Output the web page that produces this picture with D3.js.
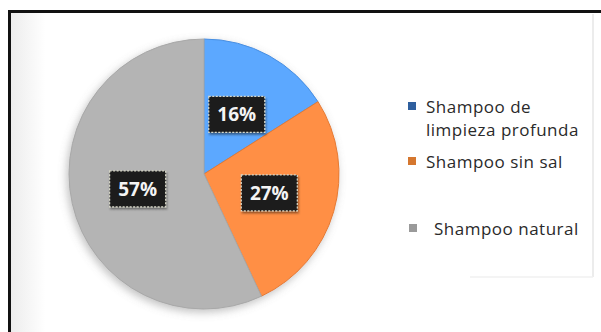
<!DOCTYPE html>
<html>
<head>
<meta charset="utf-8">
<script src="https://cdn.jsdelivr.net/npm/d3@7"></script>
<style>
  html, body { margin: 0; padding: 0; background: #ffffff; }
  svg { display: block; }
</style>
</head>
<body>
<svg id="chart" width="601" height="332"></svg>
<script>
// Share of shampoo types
const categories = ["Shampoo de limpieza profunda", "Shampoo sin sal", "Shampoo natural"];
const legendLines = [["Shampoo de", "limpieza profunda"], ["Shampoo sin sal"], ["Shampoo natural"]];
const values = [16, 27, 57];
const sliceColors = ["#5ba8ff", "#ff8f45", "#b4b4b4"];
const edgeColors = ["#4a8fe0", "#e57a32", "#a8a8a8"];
const swatchColors = ["#2f5f9e", "#d5772f", "#9a9a9a"];

const svg = d3.select("#chart");
const W = 601, H = 332;

const defs = svg.append("defs");
const shadow = defs.append("filter").attr("id", "pieShadow")
  .attr("x", "-20%").attr("y", "-20%").attr("width", "140%").attr("height", "140%");
shadow.append("feDropShadow").attr("dx", -2).attr("dy", 3)
  .attr("stdDeviation", 4).attr("flood-color", "#777").attr("flood-opacity", 0.45);

const boxShadow = defs.append("filter").attr("id", "boxShadow")
  .attr("x", "-30%").attr("y", "-30%").attr("width", "160%").attr("height", "160%");
boxShadow.append("feDropShadow").attr("dx", 1).attr("dy", 2)
  .attr("stdDeviation", 1.2).attr("flood-color", "#000").attr("flood-opacity", 0.45);

// soft grey haze along the left edge of the panel
const haze = defs.append("linearGradient").attr("id", "haze").attr("x1", 0).attr("x2", 1);
haze.append("stop").attr("offset", 0).attr("stop-color", "#ececec");
haze.append("stop").attr("offset", 0.06).attr("stop-color", "#ffffff");
haze.append("stop").attr("offset", 1).attr("stop-color", "#ffffff");

svg.append("rect").attr("x", 10).attr("y", 12).attr("width", W - 10).attr("height", H - 12)
  .attr("fill", "url(#haze)");

// faint outline of the inner chart area
svg.append("line").attr("x1", 593).attr("x2", 593).attr("y1", 14).attr("y2", 277)
  .attr("stroke", "#e6e6e6").attr("stroke-width", 1.5);
svg.append("line").attr("x1", 470).attr("x2", 593).attr("y1", 277).attr("y2", 277)
  .attr("stroke", "#f1f1f1").attr("stroke-width", 1.5);

// black frame on the top and left
svg.append("path")
  .attr("d", `M9.5,${H} L9.5,11.5 L${W},11.5`)
  .attr("fill", "none").attr("stroke", "#111").attr("stroke-width", 3);

// pie
const cx = 204, cy = 174, R = 135;
const pie = d3.pie().sort(null).value(d => d)(values);
const arc = d3.arc().innerRadius(0).outerRadius(R);
const labelArc = d3.arc().innerRadius(68).outerRadius(68);

const g = svg.append("g").attr("transform", `translate(${cx},${cy})`);
g.append("g").attr("filter", "url(#pieShadow)")
  .selectAll("path").data(pie).join("path")
  .attr("d", arc)
  .attr("fill", (d, i) => sliceColors[i])
  .attr("stroke", (d, i) => edgeColors[i])
  .attr("stroke-width", 1);

// value labels in dark boxes
const lab = g.selectAll("g.lab").data(pie).join("g")
  .attr("class", "lab")
  .attr("transform", d => `translate(${labelArc.centroid(d)})`);
lab.append("rect")
  .attr("x", -28).attr("y", -18).attr("width", 56).attr("height", 36)
  .attr("fill", "#1f1f1f")
  .attr("stroke", "#d8d8c8").attr("stroke-width", 1.2).attr("stroke-dasharray", "2,1.5")
  .attr("filter", "url(#boxShadow)");
lab.append("text")
  .attr("text-anchor", "middle").attr("dy", "0.36em")
  .attr("font-family", "'Open Sans', sans-serif").attr("font-weight", 700)
  .attr("font-size", 19).attr("fill", "#f4f4f4")
  .text(d => d.data + "%");

// legend
const legendY = [113, 168, 235];
const legendSwatchX = [408, 408, 409];
const legendTextX = [426, 426, 434];
const leg = svg.append("g").selectAll("g").data(categories).join("g");
leg.append("rect")
  .attr("x", (d, i) => legendSwatchX[i]).attr("y", (d, i) => legendY[i] - 11)
  .attr("width", 8).attr("height", 8)
  .attr("fill", (d, i) => swatchColors[i]);
leg.append("text")
  .attr("font-family", "'Open Sans', sans-serif").attr("font-size", 17)
  .attr("letter-spacing", 0.5)
  .attr("fill", "#2a2a2a")
  .selectAll("tspan").data((d, i) => legendLines[i].map(t => ({ t, i }))).join("tspan")
  .attr("x", d => legendTextX[d.i])
  .attr("y", (d, j) => legendY[d.i] + j * 23)
  .text(d => d.t);
</script>
</body>
</html>
